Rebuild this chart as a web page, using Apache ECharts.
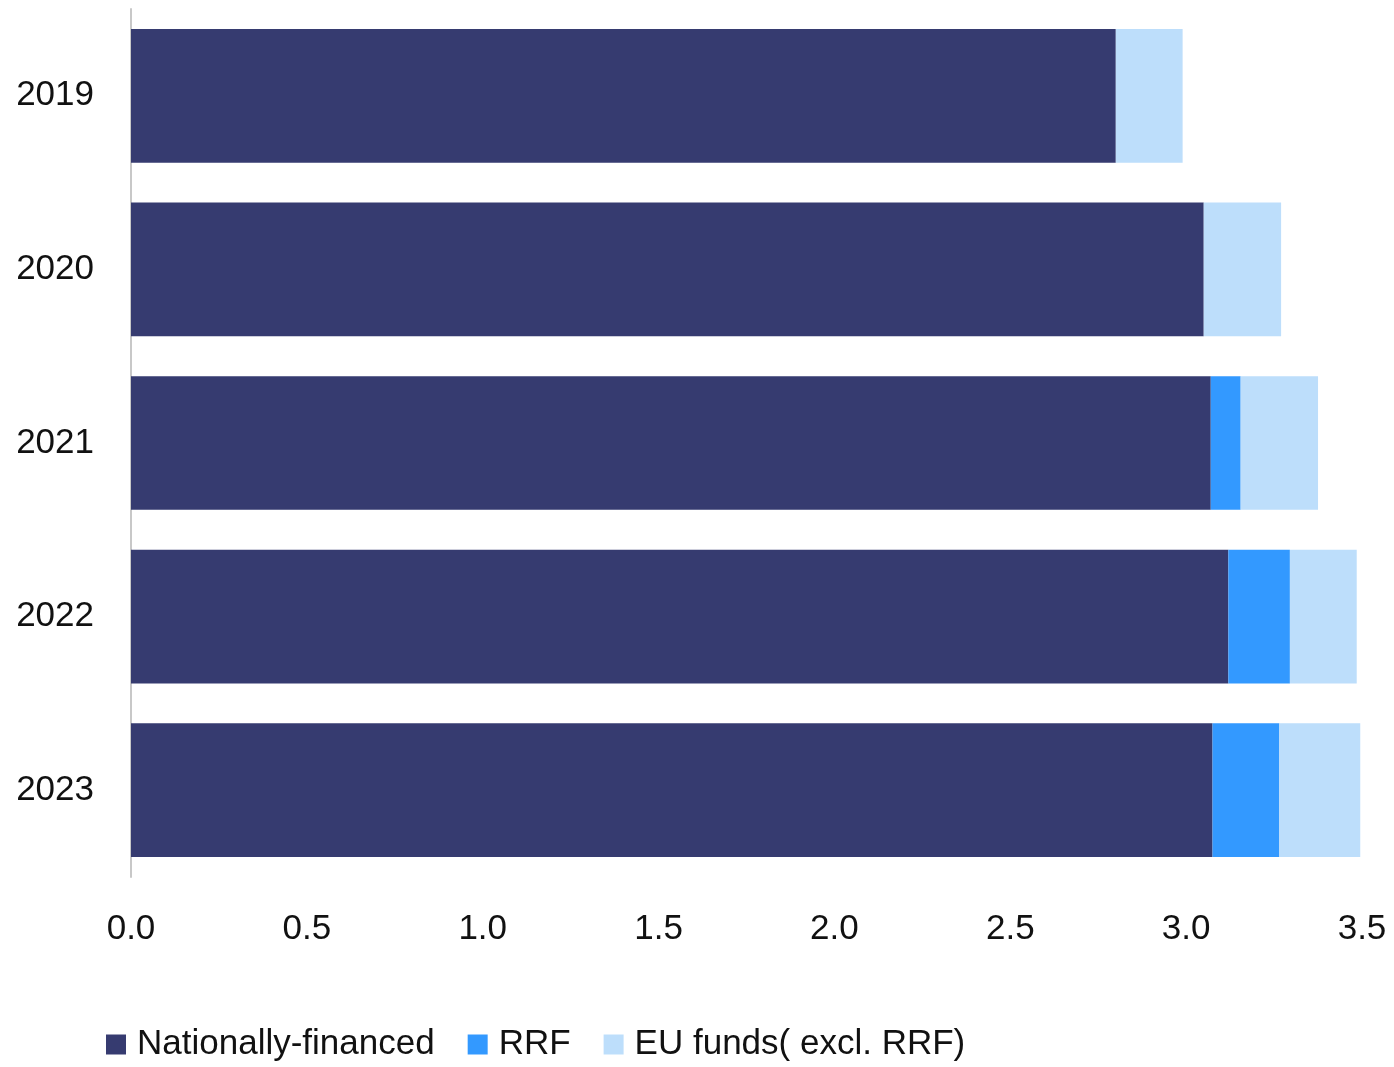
<!DOCTYPE html>
<html>
<head>
<meta charset="utf-8">
<script src="https://cdn.jsdelivr.net/npm/echarts@6/dist/echarts.min.js"></script>
<style>html,body{margin:0;padding:0;background:#fff}#c{width:1394px;height:1067px}</style>
</head>
<body>
<div id="c"></div>
<script>
const categories = ['2019', '2020', '2021', '2022', '2023'];
const nationallyFinanced = [2.80, 3.05, 3.07, 3.12, 3.075];
const rrf = [0, 0, 0.085, 0.175, 0.19];
const euFunds = [0.19, 0.22, 0.22, 0.19, 0.23];
const xTicks = [0, 0.5, 1.0, 1.5, 2.0, 2.5, 3.0, 3.5];

const font = '"Liberation Sans", "DejaVu Sans", sans-serif';
const chart = echarts.init(document.getElementById('c'));
chart.setOption({
  animation: false,
  textStyle: { fontFamily: font },
  grid: { left: 131, right: 32, top: 9, bottom: 190, containLabel: false },
  legend: {
    left: 106, top: 1027, padding: 0,
    icon: 'rect',
    itemWidth: 20, itemHeight: 20, itemGap: 33,
    textStyle: { fontSize: 35, color: '#111', fontFamily: font, padding: [0, 0, 0, 6] },
    data: ['Nationally-financed', 'RRF', 'EU funds( excl. RRF)']
  },
  xAxis: {
    type: 'value', min: 0, max: 3.5, interval: 0.5,
    axisLine: { show: false }, axisTick: { show: false }, splitLine: { show: false },
    axisLabel: { fontSize: 35, color: '#111', margin: 35, formatter: v => v.toFixed(1) }
  },
  yAxis: {
    type: 'category', data: categories, inverse: true,
    axisLine: { show: true, lineStyle: { color: '#c8c8c8', width: 2 } },
    axisTick: { show: false },
    axisLabel: { fontSize: 35, color: '#111', margin: 37, lineHeight: 40, padding: [6, 0, 0, 0] }
  },
  series: [
    { name: 'Nationally-financed', type: 'bar', stack: 't', data: nationallyFinanced, barCategoryGap: '23%', itemStyle: { color: '#363B70' } },
    { name: 'RRF', type: 'bar', stack: 't', data: rrf, itemStyle: { color: '#3399FF' } },
    { name: 'EU funds( excl. RRF)', type: 'bar', stack: 't', data: euFunds, itemStyle: { color: '#BDDEFB' } }
  ]
});
</script>
</body>
</html>
